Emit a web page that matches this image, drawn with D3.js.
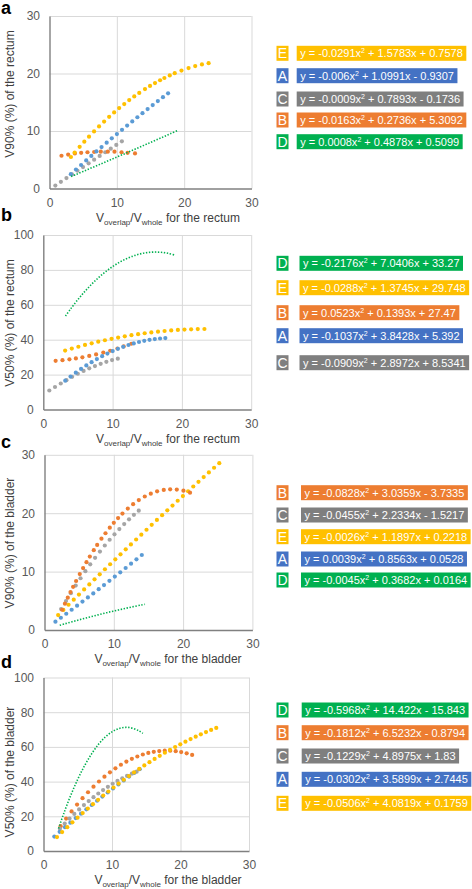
<!DOCTYPE html>
<html><head><meta charset="utf-8">
<script src="https://cdn.jsdelivr.net/npm/d3@7"></script>
<style>body{margin:0;background:#fff}svg{display:block;font-family:"Liberation Sans",Arial,sans-serif}</style>
</head><body>
<svg id="chart" width="472" height="889"></svg>
<script>
// ---------- DATA ----------
const groups = ["A","B","C","D","E"];
const xTicks = [0,10,20,30];
const yTicks30 = [0,10,20,30];
const yTicks100 = [0,20,40,60,80,100];
const panelLetters = ["a","b","c","d"];
const yTitles = ["V90% (%) of the rectum","V50% (%) of the rectum","V90% (%) of the bladder","V50% (%) of the bladder"];
const organs = ["rectum","rectum","bladder","bladder"];

// rectum x values (Voverlap/Vwhole for the rectum)
const xRectA = [3.17,3.93,4.69,5.45,6.21,6.97,7.73,8.49,9.25,10.01,10.77,11.53,12.29,13.05,13.81,14.57,15.33,16.09,16.85,17.61];
const xRectB = [1.78,2.77,3.77,4.70,5.64,6.63,7.62,8.66,9.65,10.70,11.60,12.70];
const xRectC = [0.87,1.69,2.52,3.34,4.16,4.98,5.81,6.63,7.45,8.28,9.10,9.92,10.75];
const xRectD = [3.2,4,5,6,7,8,9,10,11,12,13,14,15,16,17,18,19.1];
const xRectEa = [3.18,3.73,4.48,5.17,5.87,6.62,7.36,8.11,8.86,9.6,10.35,11.1,11.84,12.59,13.33,14.18,14.93,15.67,16.42,17.06,17.86,18.6,19.6,20.65,21.64,22.64,23.63];
const xRectEb = [3.15,4.11,5.06,6.02,6.98,7.93,8.89,9.85,10.80,11.76,12.72,13.68,14.63,15.59,16.55,17.50,18.46,19.42,20.37,21.33,22.29,23.25];

// panel a: V90% of the rectum
const aA = [2.49,3.30,4.09,4.88,5.66,6.44,7.21,7.97,8.72,9.47,10.21,10.94,11.67,12.39,13.10,13.81,14.51,15.20,15.89,16.56];
const aB = [5.7,5.9,6.1,6.2,6.3,6.35,6.4,6.4,6.4,6.3,6.2,6.1];
const aC = [0.51,1.16,1.81,2.45,3.09,3.73,4.38,5.02,5.66,6.30,6.93,7.57,8.21];
const aD = [2.08,2.47,2.97,3.47,3.96,4.46,4.97,5.47,5.97,6.48,6.99,7.50,8.01,8.52,9.03,9.55,10.12];
const aE = [5.48,6.24,7.24,8.14,9.02,9.93,10.80,11.64,12.46,13.23,13.98,14.69,15.37,16.02,16.63,17.29,17.84,18.34,18.83,19.22,19.66,20.05,20.51,20.94,21.29,21.58,21.80];

// panel b: V50% of the rectum
const bA = [16.53,18.89,21.13,23.26,25.26,27.14,28.90,30.54,32.07,33.47,34.75,35.91,36.96,37.88,38.68,39.37,39.93,40.38,40.70,40.91];
const bB = [27.88,28.26,28.74,29.28,29.92,30.69,31.57,32.60,33.68,34.95,36.12,37.68];
const bC = [10.9,12.9,14.9,16.8,18.7,20.5,22.1,23.6,24.9,26.2,27.3,28.3,29.1];
const bD = [53.57,57.95,63.03,67.68,71.89,75.67,79.01,81.92,84.39,86.42,88.02,89.19,89.92,90.21,90.07,89.50,88.37];
const bE = [33.79,34.91,35.97,36.98,37.94,38.84,39.69,40.49,41.23,41.93,42.57,43.16,43.69,44.18,44.61,44.98,45.31,45.58,45.80,45.96,46.08,46.14];

// bladder x values (Voverlap/Vwhole for the bladder)
const xBladA = [1.58,2.36,3.14,3.92,4.70,5.48,6.26,7.04,7.82,8.59,9.37,10.15,10.93,11.71,12.49,13.27,14.04];
const xBladBc = [2.55,2.95,3.36,3.75,4.13,4.56,5.09,5.57,6.06,6.54,7.11,7.60,8.22,8.80,9.42,10.0,10.62,11.25,12.02,12.79,13.61,14.47,15.34,16.25,17.21,18.13,19.09,20.05,21.0];
const xBladBd = [2.5,3.3,4.1,4.9,5.7,6.5,7.3,8.1,8.9,9.7,10.5,11.3,12.1,12.9,13.7,14.5,15.3,16.1,16.9,17.7,18.5,19.3,20.1,20.9,21.7];
const xBladC = [2.4,3.1,3.8,4.5,5.2,5.9,6.6,7.3,8.0,8.7,9.4,10.1,10.8,11.5,12.2,12.9,13.6];
const xBladD = [2.2,3,4,5,6,7,8,9,10,11,12,13,14,14.5];
const xBladE = [1.97,2.72,3.47,4.22,4.97,5.72,6.47,7.22,7.97,8.72,9.47,10.22,10.97,11.72,12.47,13.22,13.97,14.72,15.47,16.22,16.97,17.72,18.47,19.22,19.97,20.72,21.47,22.22,22.97,23.72,24.47,25.22];

// panel c: V90% of the bladder
const cA = [1.42,2.10,2.78,3.47,4.16,4.86,5.57,6.27,6.99,7.70,8.42,9.15,9.88,10.62,11.36,12.10,12.84];
const cB = [3.47,4.50,5.53,6.49,7.39,8.39,9.57,10.61,11.62,12.58,13.67,14.56,15.63,16.57,17.52,18.35,19.17,19.94,20.80,21.55,22.25,22.86,23.35,23.74,23.99,24.09,24.05,23.85,23.51];
const cC = [3.58,4.96,6.31,7.61,8.86,10.07,11.24,12.36,13.43,14.47,15.45,16.39,17.29,18.14,18.95,19.72,20.44];
const cD = [0.80,1.08,1.42,1.74,2.06,2.37,2.67,2.97,3.25,3.52,3.79,4.04,4.29,4.41];
const cE = [2.56,3.44,4.32,5.20,6.07,6.94,7.81,8.68,9.54,10.40,11.26,12.11,12.96,13.81,14.65,15.50,16.33,17.17,18.01,18.84,19.66,20.49,21.31,22.13,22.94,23.76,24.57,25.37,26.18,26.98,27.78,28.57];

// panel d: V50% of the bladder
const dA = [8.34,11.05,13.72,16.35,18.95,21.51,24.03,26.52,28.97,31.35,33.73,36.07,38.38,40.64,42.87,45.07,47.19];
const dB = [14.30,18.67,22.82,26.73,30.42,33.87,37.08,40.07,42.82,45.35,47.64,49.70,51.52,53.12,54.48,55.61,56.51,57.18,57.61,57.81,57.78,57.52,57.03,56.31,55.35];
const dC = [12.88,15.83,18.67,21.38,23.97,26.45,28.80,31.03,33.14,35.14,37.01,38.76,40.39,41.90,43.29,44.56,45.70];
const dD = [13.00,22.05,32.30,41.35,49.20,55.87,61.34,65.61,68.70,70.59,71.28,70.78,69.09,67.80];
const dE = [8.02,10.90,13.73,16.50,19.21,21.87,24.47,27.01,29.50,31.92,34.29,36.61,38.87,41.07,43.21,45.30,47.33,49.30,51.21,53.07,54.87,56.62,58.31,59.94,61.51,63.03,64.49,65.89,67.24,68.53,69.76,70.94];

// legends (order as shown, with trendline equations)
const legendA = ["E","A","C","B","D"];
const eqsA = ["y = -0.0291x² + 1.5783x + 0.7578","y = -0.006x² + 1.0991x - 0.9307","y = -0.0009x² + 0.7893x - 0.1736","y = -0.0163x² + 0.2736x + 5.3092","y = 0.0008x² + 0.4878x + 0.5099"];
const legendB = ["D","E","B","A","C"];
const eqsB = ["y = -0.2176x² + 7.0406x + 33.27","y = -0.0288x² + 1.3745x + 29.748","y = 0.0523x² + 0.1393x + 27.47","y = -0.1037x² + 3.8428x + 5.392","y = -0.0909x² + 2.8972x + 8.5341"];
const legendC = ["B","C","E","A","D"];
const eqsC = ["y = -0.0828x² + 3.0359x - 3.7335","y = -0.0455x² + 2.2334x - 1.5217","y = -0.0026x² + 1.1897x + 0.2218","y = 0.0039x² + 0.8563x + 0.0528","y = -0.0045x² + 0.3682x + 0.0164"];
const legendD = ["D","B","C","A","E"];
const eqsD = ["y = -0.5968x² + 14.422x - 15.843","y = -0.1812x² + 6.5232x - 0.8794","y = -0.1229x² + 4.8975x + 1.83","y = -0.0302x² + 3.5899x + 2.7445","y = -0.0506x² + 4.0819x + 0.1759"];

// ---------- STYLE / LAYOUT ----------
const boxColors = {A:"#4472C4",B:"#ED7D31",C:"#7F7F7F",D:"#00B050",E:"#FFC000"};
const dotColors = {A:"#5B9BD5",B:"#ED7D31",C:"#A5A5A5",E:"#FFC000"};

const panels = [
  {series:{C:[xRectC,aC],B:[xRectB,aB],A:[xRectA,aA],E:[xRectEa,aE],D:[xRectD,aD]}, yMax:30, yTicks:yTicks30,
   legend:legendA, eqs:eqsA, L:49.5,R:251.5,T:16,B:188.5, letterY:14, yTitleY:94, rows:[53.3,75.7,99,120,141.7], eqX:296.7},
  {series:{C:[xRectC,bC],B:[xRectB,bB],A:[xRectA,bA],E:[xRectEb,bE],D:[xRectD,bD]}, yMax:100, yTicks:yTicks100,
   legend:legendB, eqs:eqsB, L:43.3,R:251.2,T:235,B:409.5, letterY:221, yTitleY:323, rows:[263.3,287.7,312.7,335.7,362.7], eqX:299.5},
  {series:{A:[xBladA,cA],E:[xBladE,cE],C:[xBladC,cC],B:[xBladBc,cB],D:[xBladD,cD]}, yMax:30, yTicks:yTicks30,
   legend:legendC, eqs:eqsC, L:44.5,R:252.4,T:454.8,B:630, letterY:448, yTitleY:543, rows:[492.7,515,536.7,559,580], eqX:301},
  {series:{B:[xBladBd,dB],C:[xBladC,dC],A:[xBladA,dA],E:[xBladE,dE],D:[xBladD,dD]}, yMax:100, yTicks:yTicks100,
   legend:legendD, eqs:eqsD, L:43.5,R:249,T:677.5,B:851, letterY:668, yTitleY:772, rows:[710,732.7,756,779.3,803.3], eqX:301.7}
];

const svg = d3.select("#chart");

panels.forEach((p, i) => {
  const x = d3.scaleLinear().domain([0,30]).range([p.L,p.R]);
  const y = d3.scaleLinear().domain([0,p.yMax]).range([p.B,p.T]);
  const g = svg.append("g");

  // gridlines
  g.append("g").attr("transform",`translate(0,${p.B})`)
    .call(d3.axisBottom(x).tickValues(xTicks.filter(t=>t>0)).tickSize(-(p.B-p.T)).tickFormat(""))
    .call(s=>{s.select(".domain").remove(); s.selectAll("line").attr("stroke","#D9D9D9").attr("stroke-width",1);});
  g.append("g").attr("transform",`translate(${p.L},0)`)
    .call(d3.axisLeft(y).tickValues(p.yTicks.filter(t=>t>0)).tickSize(-(p.R-p.L)).tickFormat(""))
    .call(s=>{s.select(".domain").remove(); s.selectAll("line").attr("stroke","#D9D9D9").attr("stroke-width",1);});

  // axes
  g.append("g").attr("transform",`translate(0,${p.B})`)
    .call(d3.axisBottom(x).tickValues(xTicks).tickSize(0).tickPadding(9.5))
    .call(s=>{s.select(".domain").attr("stroke","#808080").attr("stroke-width",1.4);
      s.selectAll("text").attr("fill","#595959").attr("font-size",12).attr("font-family","Liberation Sans, Arial, sans-serif");});
  g.append("g").attr("transform",`translate(${p.L},0)`)
    .call(d3.axisLeft(y).tickValues(p.yTicks).tickSize(0).tickPadding(9.5))
    .call(s=>{s.select(".domain").attr("stroke","#808080").attr("stroke-width",1.4);
      s.selectAll("text").attr("fill","#595959").attr("font-size",12).attr("font-family","Liberation Sans, Arial, sans-serif");});

  // series
  Object.entries(p.series).forEach(([k,[xs,ys]]) => {
    const pts = xs.map((v,j)=>[v,ys[j]]);
    if (k === "D") {
      g.append("path").datum(pts)
        .attr("d", d3.line().x(d=>x(d[0])).y(d=>y(d[1])).curve(d3.curveCatmullRom))
        .attr("fill","none").attr("stroke",boxColors.D).attr("stroke-width",1.6)
        .attr("stroke-dasharray","1.4,1.6");
    } else {
      g.append("g").selectAll("circle").data(pts).join("circle")
        .attr("cx",d=>x(d[0])).attr("cy",d=>y(d[1])).attr("r",2.1)
        .attr("fill",dotColors[k]);
    }
  });

  // panel letter
  svg.append("text").attr("x",1).attr("y",p.letterY).text(panelLetters[i])
    .attr("font-size",18).attr("font-weight","bold").attr("fill","#000");

  // y title
  svg.append("text").attr("transform",`translate(14,${p.yTitleY}) rotate(-90)`)
    .attr("text-anchor","middle").attr("font-size",12).attr("fill","#404040").text(yTitles[i]);

  // x title (subscripts via baseline-shift)
  const xt = svg.append("text").attr("x",168).attr("y",p.B+33).attr("text-anchor","middle")
    .attr("font-size",12).attr("fill","#404040");
  xt.append("tspan").text("V");
  xt.append("tspan").attr("font-size",8).attr("baseline-shift","-3").text("overlap");
  xt.append("tspan").text("/V");
  xt.append("tspan").attr("font-size",8).attr("baseline-shift","-3").text("whole");
  xt.append("tspan").text("\u00a0for the " + organs[i]);

  // legend
  p.legend.forEach((k,j) => {
    const cy = p.rows[j];
    svg.append("rect").attr("x",276.5).attr("y",cy-7.5).attr("width",12).attr("height",15).attr("fill",boxColors[k]);
    svg.append("text").attr("x",282.5).attr("y",cy+5).attr("text-anchor","middle")
      .attr("font-size",14).attr("fill","#fff").text(k);
    const lg = svg.append("g");
    const rect = lg.append("rect").attr("x",p.eqX).attr("y",cy-7.5).attr("height",15).attr("fill",boxColors[k]);
    const t = lg.append("text").attr("x",p.eqX+3.5).attr("y",cy+4).attr("font-size",11).attr("fill","#fff");
    const parts = p.eqs[j].split("²");
    t.append("tspan").text(parts[0]);
    t.append("tspan").attr("font-size",7).attr("baseline-shift","4").text("2");
    t.append("tspan").text(parts[1]);
    const w = t.node().getComputedTextLength();
    rect.attr("width", w + 7);
  });
});
</script>
</body></html>
